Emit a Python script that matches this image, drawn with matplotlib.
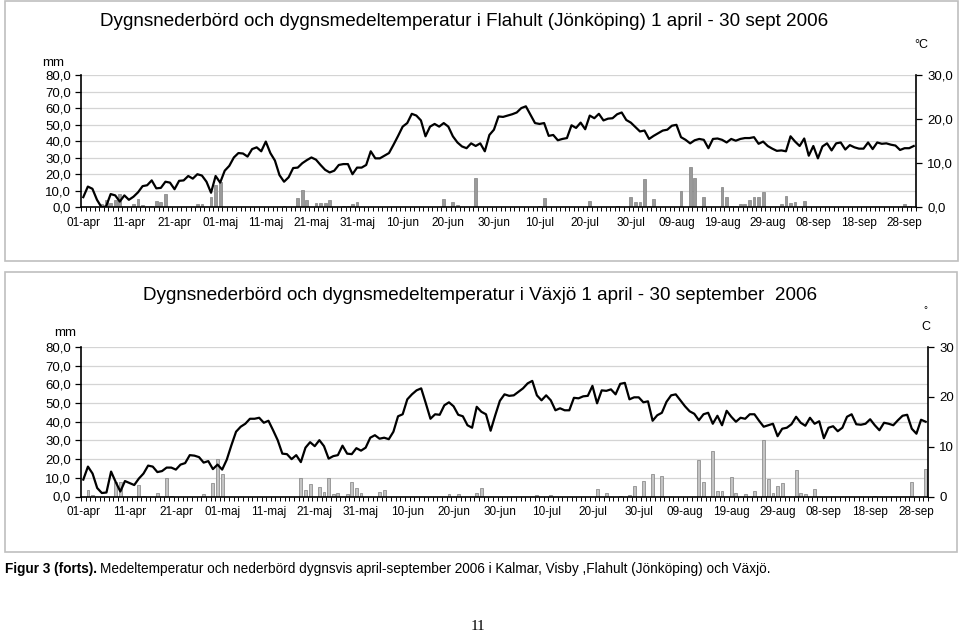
import numpy as np
import matplotlib
matplotlib.use("Agg")
import matplotlib.pyplot as plt
from matplotlib.patches import Rectangle

plt.rcParams['font.family'] = ['Liberation Sans', 'DejaVu Sans']

# x-axis labels, one every 10 days from 1 april
date_labels = ['01-apr', '11-apr', '21-apr', '01-maj', '11-maj', '21-maj', '31-maj',
               '10-jun', '20-jun', '30-jun', '10-jul', '20-jul', '30-jul', '09-aug',
               '19-aug', '29-aug', '08-sep', '18-sep', '28-sep']

# Flahult (Jönköping): daily mean temperature, 1 apr - 30 sep
flahult_temp = [
    2.3, 4.7, 4.2, 1.7, 0.0, 0.2, 3.0, 2.7, 1.3, 2.7,
    1.7, 2.4, 3.4, 4.8, 5.0, 6.1, 4.3, 4.4, 5.8, 5.6,
    4.1, 6.0, 6.1, 7.1, 6.5, 7.5, 7.2, 5.8, 3.3, 7.1,
    5.6, 8.3, 9.4, 11.3, 12.3, 12.2, 11.5, 13.2, 13.6, 12.7,
    14.9, 12.3, 10.6, 7.3, 5.8, 6.8, 8.9, 9.0, 10.0, 10.7,
    11.3, 10.8, 9.6, 8.5, 7.9, 8.3, 9.6, 9.8, 9.8, 7.5,
    9.0, 9.0, 9.6, 12.7, 11.1, 11.1, 11.7, 12.3, 14.2, 16.2,
    18.3, 19.1, 21.2, 20.8, 19.7, 16.1, 18.3, 18.9, 18.3, 19.1,
    18.3, 16.1, 14.7, 13.8, 13.4, 14.5, 13.9, 14.5, 12.7, 16.4,
    17.6, 20.6, 20.5, 20.8, 21.1, 21.5, 22.5, 22.9, 21.0, 19.1,
    18.9, 19.1, 16.2, 16.4, 15.2, 15.5, 15.7, 18.6, 18.0, 19.2,
    17.7, 20.8, 20.2, 21.2, 19.7, 20.1, 20.2, 21.1, 21.5, 19.8,
    19.2, 18.2, 17.2, 17.4, 15.5, 16.2, 16.8, 17.4, 17.6, 18.5,
    18.7, 15.9, 15.3, 14.5, 15.2, 15.5, 15.3, 13.4, 15.5, 15.6,
    15.3, 14.7, 15.5, 15.1, 15.5, 15.7, 15.7, 15.9, 14.4, 14.9,
    13.9, 13.3, 12.8, 12.9, 12.7, 16.1, 14.9, 13.9, 15.6, 11.7,
    13.9, 11.1, 13.8, 14.5, 12.9, 14.5, 14.7, 13.1, 14.1, 13.6,
    13.3, 13.3, 14.7, 13.2, 14.7, 14.4, 14.5, 14.2, 14.0, 13.0,
    13.4, 13.4, 13.9]

# Flahult: days (0 = 1 apr) with precipitation, and amount in mm
flahult_rain_day = [4, 5, 6, 7, 8, 11, 12, 13, 15, 16, 17, 18, 25, 26, 28, 29, 30,
                    44, 47, 48, 49, 51, 52, 53, 54, 57, 58, 59, 60, 79, 81, 82, 86, 87,
                    100, 101, 111, 117, 120, 121, 122, 123, 124, 125, 131, 133, 134, 136,
                    138, 140, 141, 142, 143, 144, 145, 146, 147, 148, 149, 153, 154, 155,
                    156, 158, 180, 181]
flahult_rain_mm = [2.0, 4.4, 2.8, 4.4, 8.1, 1.8, 5.0, 1.2, 0.5, 3.8, 3.2, 7.9, 1.8, 1.8,
                   6.1, 13.5, 15.2, 0.8, 5.9, 10.5, 4.4, 2.4, 2.4, 2.4, 4.2, 1.0, 1.0,
                   2.0, 3.4, 4.8, 3.0, 1.2, 17.6, 0.4, 0.6, 5.9, 3.8, 0.6, 6.1, 3.0,
                   3.0, 17.2, 1.0, 5.3, 9.9, 24.6, 17.6, 6.1, 0.4, 12.5, 6.5, 0.6, 0.6,
                   2.0, 2.0, 4.4, 6.1, 6.1, 9.1, 1.8, 6.9, 2.8, 3.2, 3.8, 2.0, 0.6]

# Växjö: daily mean temperature
vaxjo_temp = [
    3.4, 6.0, 4.6, 1.7, 0.7, 0.8, 5.0, 2.9, 1.0, 3.1,
    2.7, 2.3, 3.6, 4.6, 6.2, 6.0, 4.9, 5.1, 5.8, 5.8,
    5.4, 6.4, 6.7, 8.3, 8.2, 7.9, 6.8, 7.1, 5.5, 6.4,
    5.4, 7.4, 10.3, 13.0, 14.0, 14.6, 15.6, 15.6, 15.8, 14.8,
    15.2, 13.3, 11.3, 8.6, 8.5, 7.5, 8.3, 6.9, 9.8, 10.9,
    10.1, 11.3, 10.1, 7.6, 8.1, 8.3, 10.2, 8.6, 8.5, 9.7,
    9.2, 9.8, 11.8, 12.3, 11.6, 11.8, 11.5, 13.0, 16.1, 16.5,
    19.5, 20.5, 21.3, 21.7, 18.7, 15.6, 16.5, 16.4, 18.3, 18.9,
    18.1, 16.4, 16.1, 14.3, 13.8, 18.0, 17.0, 16.5, 13.2, 16.3,
    19.2, 20.5, 20.2, 20.3, 21.0, 21.7, 22.7, 23.2, 20.3, 19.3,
    20.3, 19.3, 17.3, 17.7, 17.3, 17.3, 19.8, 19.7, 20.1, 20.2,
    22.2, 18.7, 21.3, 21.2, 21.5, 20.5, 22.6, 22.8, 19.5, 19.9,
    19.9, 18.9, 19.1, 15.2, 16.3, 16.8, 19.0, 20.3, 20.5, 19.3,
    18.1, 17.1, 16.6, 15.3, 16.5, 16.8, 14.6, 16.2, 14.3, 17.2,
    16.0, 15.0, 15.8, 15.6, 16.5, 16.5, 15.2, 14.0, 14.3, 14.6,
    12.1, 13.6, 13.8, 14.5, 16.0, 14.8, 14.2, 15.8, 14.6, 15.1,
    11.7, 13.8, 14.1, 13.1, 13.8, 16.0, 16.5, 14.5, 14.4, 14.6,
    15.5, 14.3, 13.3, 14.8, 14.6, 14.3, 15.3, 16.2, 16.4, 13.6,
    12.6, 15.4, 15.0]

vaxjo_rain_day = [1, 2, 7, 8, 12, 13, 16, 18, 19, 26, 28, 29, 30, 47, 48, 49, 51, 52,
                  53, 54, 55, 57, 58, 59, 60, 64, 65, 79, 81, 85, 86, 98, 101, 111, 113,
                  116, 118, 119, 121, 123, 125, 133, 134, 136, 137, 138, 140, 141, 143,
                  145, 147, 148, 149, 150, 151, 154, 155, 156, 158, 171, 179, 182]
vaxjo_rain_mm = [3.6, 0.7, 7.7, 7.7, 6.4, 0.5, 2.0, 9.8, 0.5, 1.4, 7.3, 19.9, 11.8, 9.8,
                 3.6, 6.8, 5.0, 2.3, 9.8, 1.4, 2.0, 1.1, 7.5, 4.3, 1.8, 2.5, 3.4, 1.1,
                 1.4, 2.1, 4.3, 0.7, 0.9, 4.1, 1.8, 0.5, 0.7, 5.4, 8.1, 11.8, 10.9,
                 19.7, 7.5, 24.2, 2.7, 2.9, 10.7, 2.0, 1.4, 2.9, 30.1, 9.5, 2.0, 5.7,
                 7.3, 14.0, 2.0, 1.4, 4.0, 0.5, 7.7, 14.5]

ndays = len(flahult_temp)
days = np.arange(ndays)

flahult_rain = np.zeros(ndays)
flahult_rain[flahult_rain_day] = flahult_rain_mm
vaxjo_rain = np.zeros(ndays)
vaxjo_rain[vaxjo_rain_day] = vaxjo_rain_mm

W, H = 960, 634
fig = plt.figure(figsize=(W / 100, H / 100), dpi=100)

# grey frames around each chart
for (x0, y0, x1, y1) in [(5, 1, 958, 261), (5, 272, 957, 552)]:
    fig.add_artist(Rectangle((x0 / W, 1 - y1 / H), (x1 - x0) / W, (y1 - y0) / H,
                             transform=fig.transFigure, fill=False,
                             edgecolor='#bfbfbf', lw=1.2))


def draw_panel(rect, rain, temp, title, bar_color, right_labels, title_xy, unit_pos):
    ax = fig.add_axes(rect)
    ax.bar(days, rain, width=0.62, color=bar_color, edgecolor='#7f7f7f', lw=0.5, zorder=2)
    ax.set_xlim(-0.5, ndays - 0.5)
    ax.set_ylim(0, 80)
    ax.set_yticks(range(0, 90, 10))
    ax.set_yticklabels(['%d,0' % v for v in range(0, 90, 10)], fontsize=9.5)
    for v in range(10, 90, 10):
        ax.axhline(v, color='#d4d4d4', lw=0.9, zorder=0)
    ax.set_xticks(range(0, ndays, 10))
    ax.set_xticklabels(date_labels, fontsize=8.5)
    ax.set_xticks(np.arange(-0.5, ndays, 1), minor=True)
    ax.tick_params(axis='x', which='major', length=0, pad=7)
    ax.tick_params(axis='x', which='minor', length=3, width=0.7, direction='out')
    ax.tick_params(axis='y', length=4, width=0.9, pad=3)
    for s in ['top', 'right']:
        ax.spines[s].set_visible(False)
    ax.spines['left'].set_linewidth(1.2)
    ax.spines['bottom'].set_linewidth(1.2)

    ax2 = ax.twinx()
    ax2.plot(days, temp, color='black', lw=1.6, zorder=3)
    ax2.set_ylim(0, 30)
    ax2.set_yticks([0, 10, 20, 30])
    ax2.set_yticklabels(right_labels, fontsize=9.5)
    ax2.tick_params(axis='y', length=4, width=0.9, pad=4)
    for s in ['top', 'left', 'bottom']:
        ax2.spines[s].set_visible(False)
    ax2.spines['right'].set_linewidth(1.2)

    fig.text(title_xy[0] / W, 1 - title_xy[1] / H, title, fontsize=13.6,
             ha='center', va='center')
    fig.text(unit_pos[0] / W, 1 - unit_pos[1] / H, 'mm', fontsize=9.5,
             ha='center', va='center')
    return ax, ax2


draw_panel([81 / W, 1 - 207.3 / H, 835 / W, 132.3 / H], flahult_rain, flahult_temp,
           'Dygnsnederbörd och dygnsmedeltemperatur i Flahult (Jönköping) 1 april - 30 sept 2006',
           '#9a9a9a', ['0,0', '10,0', '20,0', '30,0'], (464, 22), (53, 63))
fig.text(921 / W, 1 - 45 / H, '°C', fontsize=9, ha='center', va='center')

draw_panel([81 / W, 1 - 496.5 / H, 847 / W, 149.5 / H], vaxjo_rain, vaxjo_temp,
           'Dygnsnederbörd och dygnsmedeltemperatur i Växjö 1 april - 30 september  2006',
           '#c4c4c4', ['0', '10', '20', '30'], (480, 295), (65, 333))
fig.text(925 / W, 1 - 310 / H, '°', fontsize=7, ha='center', va='center')
fig.text(926 / W, 1 - 327 / H, 'C', fontsize=9, ha='center', va='center')

# caption below the charts
cap_y = 1 - 569 / H
t = fig.text(5 / W, cap_y, 'Figur 3 (forts).', fontsize=9.8, fontweight='bold',
             ha='left', va='center')
fig.canvas.draw()
bb = t.get_window_extent()
fig.text((bb.x1 + 3) / W, cap_y,
         'Medeltemperatur och nederbörd dygnsvis april-september 2006 i Kalmar, Visby ,Flahult (Jönköping) och Växjö.',
         fontsize=9.8, ha='left', va='center')
fig.text(478 / W, 1 - 627 / H, '11', fontsize=11, family='Liberation Serif',
         ha='center', va='center')

fig.savefig('out.png', dpi=100)
